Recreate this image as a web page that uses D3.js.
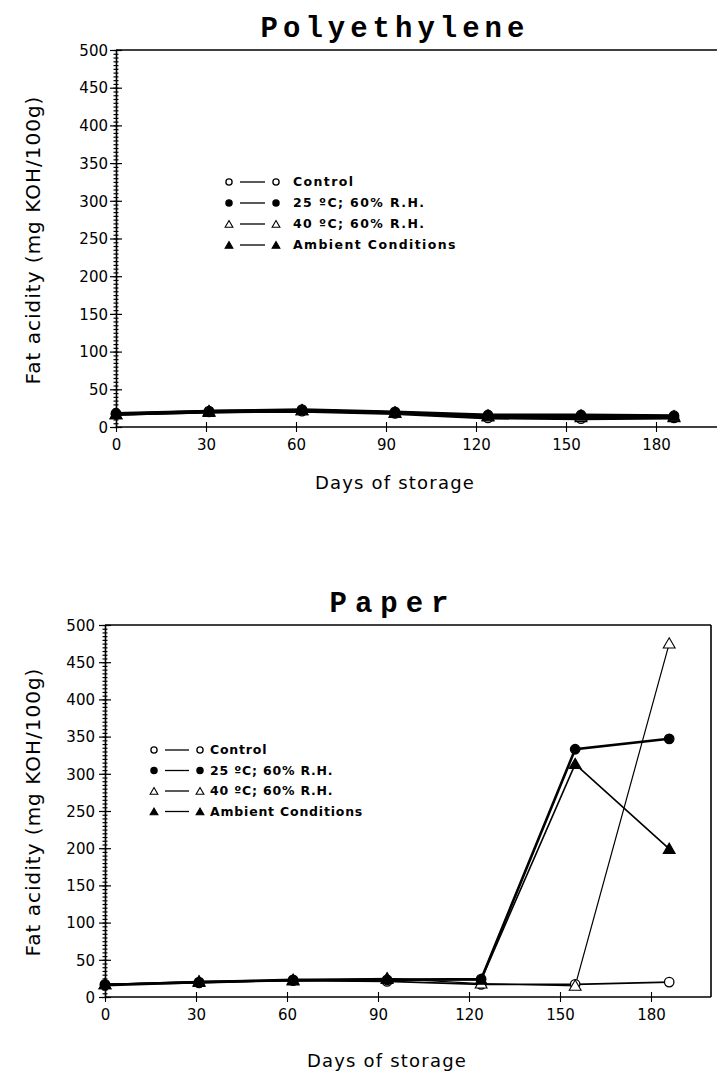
<!DOCTYPE html>
<html><head><meta charset="utf-8">
<script src="https://cdn.jsdelivr.net/npm/d3@7"></script>
<style>
html,body{margin:0;padding:0;background:#fff;}
svg{display:block;}
.tick text{font-family:"DejaVu Sans",sans-serif;}
</style></head>
<body><svg id="c" width="717" height="1079"></svg>
<script>
// ---------- data ----------
const days = [0, 31, 62, 93, 124, 155, 186];
const xTickLabels = [0, 30, 60, 90, 120, 150, 180];
const yTickLabels = [0, 50, 100, 150, 200, 250, 300, 350, 400, 450, 500];
const seriesNames = ["Control", "25 ºC; 60% R.H.", "40 ºC; 60% R.H.", "Ambient Conditions"];
const panelTitles = ["Polyethylene", "Paper"];

// Polyethylene
const polyControl = [17, 20, 21, 18, 12, 11, 12];
const poly25 = [18, 21, 23, 20, 16, 16, 15];
const poly40 = [17, 20, 22, 19, 14, 13, 13];
const polyAmbient = [17, 21, 22, 19, 15, 15, 14];

// Paper
const paperControl = [17, 19, 22, 21, 17, 17, 20];
const paper25 = [16, 20, 23, 23, 24, 333, 347];
const paper40 = [17, 21, 23, 25, 18, 15, 475];
const paperAmbient = [17, 20, 22, 24, 23, 313, 199];

// ---------- drawing ----------
const svg = d3.select("#c");
const FONT = '"DejaVu Sans", sans-serif';
const styles = [
  {shape: "circle", fill: "#fff", lw: 1.6},
  {shape: "circle", fill: "#000", lw: 2.6},
  {shape: "triangle", fill: "#fff", lw: 1.2},
  {shape: "triangle", fill: "#000", lw: 1.6}
];

function marker(g, st, x, y, scale) {
  const s = scale || 1;
  if (st.shape === "circle") {
    g.append("circle").attr("cx", x).attr("cy", y).attr("r", 4.3 * s)
      .attr("fill", st.fill).attr("stroke", "#000").attr("stroke-width", 1.3);
  } else {
    g.append("path")
      .attr("d", d3.symbol().type(d3.symbolTriangle).size(50 * s * s)())
      .attr("transform", `translate(${x},${y + 1})`)
      .attr("fill", st.fill).attr("stroke", "#000").attr("stroke-width", 1.1);
  }
}

function panel(cfg) {
  const g = svg.append("g");
  const x = d3.scaleLinear().domain([0, 180]).range([cfg.x0, cfg.x180]);
  const y = d3.scaleLinear().domain([0, 500]).range([cfg.yb, cfg.yt]);

  // title
  svg.append("text").attr("x", cfg.titleX).attr("y", cfg.titleY)
    .attr("text-anchor", "middle")
    .attr("font-family", '"Liberation Mono", "DejaVu Sans Mono", monospace')
    .attr("font-weight", "bold").attr("font-size", 29)
    .attr("letter-spacing", cfg.titleLs)
    .text(cfg.title);

  // frame
  g.append("line").attr("x1", cfg.x0).attr("x2", cfg.xRight).attr("y1", cfg.yt).attr("y2", cfg.yt)
    .attr("stroke", "#000").attr("stroke-width", 1.6);
  if (cfg.box) {
    g.append("line").attr("x1", cfg.xRight).attr("x2", cfg.xRight).attr("y1", cfg.yt).attr("y2", cfg.yb)
      .attr("stroke", "#000").attr("stroke-width", 1.6);
  }

  // y axis: minor ticks
  const yMinor = d3.axisLeft(y).tickValues(d3.range(0, 501, 5)).tickSize(0).tickFormat("");
  const gm = g.append("g").attr("transform", `translate(${cfg.x0},0)`).call(yMinor);
  gm.select(".domain").remove();
  gm.selectAll(".tick").append("line").attr("x1", -2.5).attr("x2", 2.5).attr("stroke", "#000").attr("stroke-width", 1.2);

  // y axis: major
  const yAxis = d3.axisLeft(y).tickValues(yTickLabels).tickSize(0).tickPadding(cfg.yPad);
  const gy = g.append("g").attr("transform", `translate(${cfg.x0},0)`).call(yAxis);
  gy.select(".domain").attr("stroke-width", 1.6);
  gy.selectAll(".tick").append("line").attr("x1", -6).attr("x2", 6).attr("stroke", "#000").attr("stroke-width", 1.2);
  gy.selectAll(".tick text").attr("font-size", 15).attr("fill", "#000").attr("dy", "0.35em");

  // x axis
  const xAxis = d3.axisBottom(x).tickValues(xTickLabels).tickSize(0).tickPadding(12);
  const gx = g.append("g").attr("transform", `translate(0,${cfg.yb})`).call(xAxis);
  gx.select(".domain").remove();
  gx.append("line").attr("x1", cfg.x0).attr("x2", cfg.xRight).attr("stroke", "#000").attr("stroke-width", 1.6);
  gx.selectAll(".tick").append("line").attr("y1", -5).attr("y2", 5).attr("stroke", "#000").attr("stroke-width", 1.1);
  gx.selectAll(".tick text").attr("font-size", 15).attr("fill", "#000");

  // axis titles
  svg.append("text")
    .attr("transform", `translate(${cfg.yTitleX},${cfg.yTitleY}) rotate(-90)`)
    .attr("text-anchor", "middle").attr("font-family", FONT).attr("font-size", 20)
    .attr("letter-spacing", 1)
    .text("Fat acidity (mg KOH/100g)");
  svg.append("text").attr("x", cfg.xTitleX).attr("y", cfg.xTitleY)
    .attr("text-anchor", "middle").attr("font-family", FONT).attr("font-size", 18)
    .attr("letter-spacing", 1.2)
    .text("Days of storage");

  // series
  const line = d3.line().x((d, i) => x(days[i])).y(d => y(d));
  cfg.series.forEach((vals, si) => {
    g.append("path").datum(vals).attr("d", line).attr("fill", "none")
      .attr("stroke", "#000").attr("stroke-width", cfg.lw ? cfg.lw : styles[si].lw);
  });
  cfg.series.forEach((vals, si) => {
    vals.forEach((v, i) => marker(g, styles[si], x(days[i]), y(v), cfg.mScale));
  });

  // legend
  const lg = svg.append("g");
  seriesNames.forEach((name, i) => {
    const yy = cfg.legY + i * cfg.legDy;
    marker(lg, styles[i], cfg.legX, yy, 0.72);
    lg.append("line").attr("x1", cfg.legX + 11).attr("x2", cfg.legX + cfg.legLine)
      .attr("y1", yy).attr("y2", yy).attr("stroke", "#000").attr("stroke-width", 1.3);
    marker(lg, styles[i], cfg.legX + cfg.legLine + 11, yy, 0.72);
    lg.append("text").attr("x", cfg.legX + cfg.legLine + cfg.legTextOff).attr("y", yy)
      .attr("dy", "0.35em").attr("font-family", FONT).attr("font-size", 12.5)
      .attr("font-weight", "bold").attr("letter-spacing", cfg.legLs)
      .text(name);
  });
}

panel({
  title: panelTitles[0], titleX: 395, titleY: 37, titleLs: 5,
  x0: 116, x180: 656, xRight: 730, yt: 50, yb: 427, box: false, yPad: 8,
  yTitleX: 40, yTitleY: 240, xTitleX: 395, xTitleY: 489,
  series: [polyControl, poly25, poly40, polyAmbient], lw: 3, mScale: 1.1,
  legX: 229, legY: 182, legDy: 21, legLine: 36, legTextOff: 28, legLs: 1.4
});

panel({
  title: panelTitles[1], titleX: 393, titleY: 612, titleLs: 8,
  x0: 105, x180: 651, xRight: 711, yt: 625, yb: 997, box: true, yPad: 10,
  yTitleX: 40, yTitleY: 812, xTitleX: 387, xTitleY: 1067,
  series: [paperControl, paper25, paper40, paperAmbient], mScale: 1.1,
  legX: 154, legY: 750, legDy: 20.5, legLine: 35, legTextOff: 21, legLs: 0.8
});
</script>
</body></html>
